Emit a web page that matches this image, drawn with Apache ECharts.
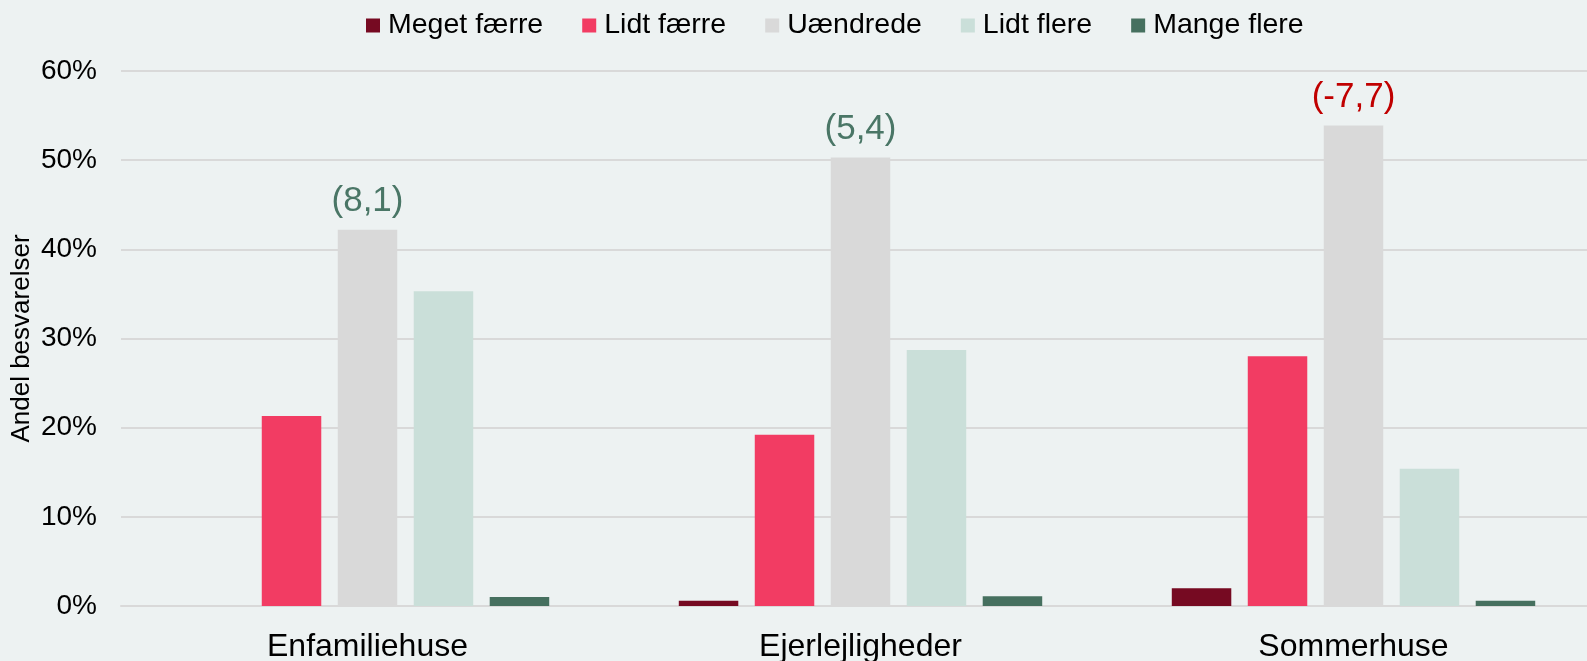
<!DOCTYPE html>
<html>
<head>
<meta charset="utf-8">
<script src="https://cdn.jsdelivr.net/npm/echarts@6/dist/echarts.min.js"></script>
<style>
  html, body { margin: 0; padding: 0; background: #edf2f2; }
  #chart { width: 1587px; height: 661px; }
</style>
</head>
<body>
<div id="chart"></div>
<script>
const categories = ['Enfamiliehuse', 'Ejerlejligheder', 'Sommerhuse'];
const seriesNames = ['Meget færre', 'Lidt færre', 'Uændrede', 'Lidt flere', 'Mange flere'];
const megetFaerre = [0, 0.6, 2.0];
const lidtFaerre = [21.3, 19.2, 28.0];
const uaendrede = [42.2, 50.3, 53.9];
const lidtFlere = [35.3, 28.7, 15.4];
const mangeFlere = [1.0, 1.1, 0.6];
const netBalance = [8.1, 5.4, -7.7];
const yTicks = [0, 10, 20, 30, 40, 50, 60];

const colors = ['#760a22', '#f23c63', '#d9d9d9', '#cadfd9', '#46705f'];
const FONT = '"Liberation Sans", Arial, sans-serif';

function fmtNet(v) { return '(' + v.toFixed(1).replace('.', ',') + ')'; }

const uData = uaendrede.map((v, i) => ({
  value: v,
  label: {
    show: true,
    position: 'top',
    distance: 11,
    formatter: fmtNet(netBalance[i]),
    color: netBalance[i] < 0 ? '#c00000' : '#4a7666',
    fontSize: 35,
    fontFamily: FONT
  }
}));

const allData = [megetFaerre, lidtFaerre, uData, lidtFlere, mangeFlere];

const chart = echarts.init(document.getElementById('chart'), null, { renderer: 'canvas' });
chart.setOption({
  backgroundColor: '#edf2f2',
  animation: false,
  textStyle: { fontFamily: FONT },
  legend: {
    data: seriesNames,
    left: 361,
    top: 6,
    itemWidth: 14,
    itemHeight: 14,
    itemGap: 39,
    icon: 'rect',
    textStyle: { fontSize: 28.5, color: '#000', fontFamily: FONT, padding: [0, 0, 0, 3] }
  },
  grid: {
    left: 121,
    right: -13,
    top: 71,
    bottom: 55,
    containLabel: false,
    outerBoundsMode: 'none'
  },
  xAxis: {
    type: 'category',
    data: categories,
    axisTick: { show: false },
    axisLine: { show: true, lineStyle: { color: '#d9d9d9', width: 2 } },
    axisLabel: { fontSize: 32, color: '#000', margin: 25, fontFamily: FONT }
  },
  yAxis: {
    type: 'value',
    min: yTicks[0],
    max: yTicks[yTicks.length - 1],
    interval: 10,
    name: 'Andel besvarelser',
    nameLocation: 'middle',
    nameRotate: 90,
    nameGap: 86,
    nameMoveOverlap: false,
    nameTextStyle: { fontSize: 26, color: '#000', fontFamily: FONT },
    axisLine: { show: false },
    axisTick: { show: false },
    axisLabel: { formatter: '{value}%', fontSize: 28, color: '#000', margin: 24, fontFamily: FONT },
    splitLine: { lineStyle: { color: '#d9d9d9', width: 2 } }
  },
  series: seriesNames.map((name, i) => ({
    name: name,
    type: 'bar',
    data: allData[i],
    barWidth: 59.5,
    barGap: '27.7%',
    itemStyle: { color: colors[i] }
  }))
});
</script>
</body>
</html>
